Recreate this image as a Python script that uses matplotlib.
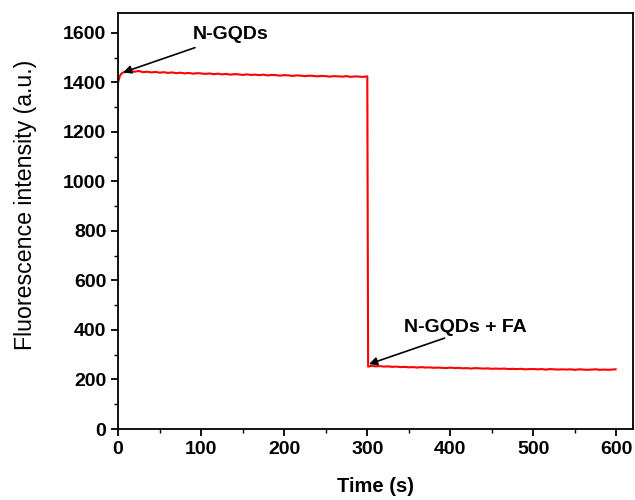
import numpy as np
import matplotlib
matplotlib.use("Agg")
import matplotlib.pyplot as plt
from matplotlib.ticker import MultipleLocator

plt.rcParams['font.family'] = ['Liberation Sans', 'DejaVu Sans']

# Segment 1: N-GQDs (0-300 s)
t1 = [0, 2, 4, 6, 10, 15, 20, 25, 30, 35, 40, 45, 50, 55, 60, 65, 70, 75, 80, 85, 90,
      95, 100, 105, 110, 115, 120, 125, 130, 135, 140, 145, 150, 155, 160, 165, 170,
      175, 180, 185, 190, 195, 200, 205, 210, 215, 220, 225, 230, 235, 240, 245, 250,
      255, 260, 265, 270, 275, 280, 285, 290, 295, 299]
y1 = [1400, 1425, 1435, 1440, 1442, 1444, 1443, 1446, 1441, 1443, 1440, 1442, 1439, 1441,
      1438, 1440, 1437, 1439, 1436, 1438, 1435, 1437, 1436, 1434, 1436, 1433, 1435, 1432,
      1434, 1431, 1433, 1432, 1430, 1432, 1430, 1431, 1429, 1431, 1428, 1430, 1429, 1427,
      1429, 1428, 1426, 1428, 1427, 1425, 1427, 1426, 1424, 1426, 1425, 1423, 1425, 1424,
      1423, 1425, 1422, 1424, 1423, 1422, 1424]

# Segment 2: N-GQDs + FA (300-600 s)
t2 = [300, 301, 305, 310, 315, 320, 325, 330, 335, 340, 345, 350, 355, 360, 365, 370, 375,
      380, 385, 390, 395, 400, 405, 410, 415, 420, 425, 430, 435, 440, 445, 450, 455,
      460, 465, 470, 475, 480, 485, 490, 495, 500, 505, 510, 515, 520, 525, 530, 535,
      540, 545, 550, 555, 560, 565, 570, 575, 580, 585, 590, 595, 599]
y2 = [1424, 252, 255, 253, 254, 252, 253, 251, 252, 250, 251, 249, 250, 248, 250, 248,
      249, 247, 248, 247, 246, 248, 246, 247, 245, 246, 244, 246, 245, 244, 245, 243,
      244, 243, 244, 242, 243, 242, 243, 241, 242, 242, 241, 242, 240, 242, 241, 240,
      241, 240, 241, 239, 241, 240, 239, 240, 241, 239, 240, 239, 240, 241]

x_ticks = [0, 100, 200, 300, 400, 500, 600]
y_ticks = [0, 200, 400, 600, 800, 1000, 1200, 1400, 1600]

fig = plt.figure(figsize=(6.35, 5.0), dpi=100)
ax = fig.add_axes([0.186, 0.142, 0.811, 0.832])

ax.plot(t1 + t2, y1 + y2, color='#ff0000', lw=1.5)

ax.set_xlim(0, 620)
ax.set_ylim(0, 1680)
ax.set_xticks(x_ticks)
ax.set_yticks(y_ticks)
ax.xaxis.set_minor_locator(MultipleLocator(50))
ax.yaxis.set_minor_locator(MultipleLocator(100))
ax.tick_params(which='major', direction='out', length=5, width=1.3, labelsize=14)
ax.tick_params(which='minor', direction='out', length=3, width=1.0)
for lab in ax.get_xticklabels() + ax.get_yticklabels():
    lab.set_fontweight('bold')
for s in ax.spines.values():
    s.set_linewidth(1.3)

ax.set_xlabel('Time (s)', fontsize=14.5, fontweight='bold', labelpad=14)
ax.set_ylabel('Fluorescence intensity (a.u.)', fontsize=16.7, labelpad=20)
ax.yaxis.set_label_coords(-0.158, 0.538)

ax.text(90, 1593, 'N-GQDs', fontsize=14, fontweight='bold', va='center', ha='left')
ax.annotate('', xy=(6, 1440), xytext=(92.5, 1540),
            arrowprops=dict(arrowstyle='-|>', color='black', lw=1.2, shrinkA=0, shrinkB=0,
                            mutation_scale=12))
ax.text(344, 411, 'N-GQDs + FA', fontsize=14, fontweight='bold', va='center', ha='left')
ax.annotate('', xy=(302, 262), xytext=(393, 367),
            arrowprops=dict(arrowstyle='-|>', color='black', lw=1.2, shrinkA=0, shrinkB=0,
                            mutation_scale=12))

fig.savefig('out.png', dpi=100)
